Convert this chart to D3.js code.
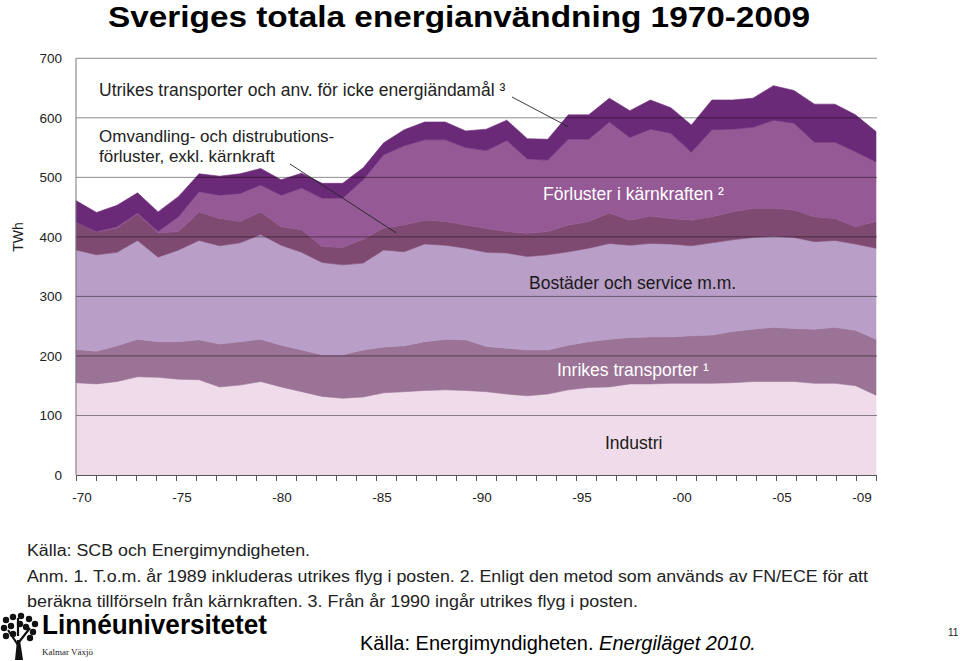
<!DOCTYPE html>
<html><head><meta charset="utf-8">
<script src="https://cdn.jsdelivr.net/npm/d3@7"></script>
<style>
body{margin:0;background:#fff;}
svg{display:block;font-family:"Liberation Sans",Arial,Helvetica,sans-serif;}
</style>
</head><body>
<svg id="c" width="960" height="661"></svg>
<script>
// ---- Data (TWh) ----
const years = [1970,1971,1972,1973,1974,1975,1976,1977,1978,1979,
               1980,1981,1982,1983,1984,1985,1986,1987,1988,1989,
               1990,1991,1992,1993,1994,1995,1996,1997,1998,1999,
               2000,2001,2002,2003,2004,2005,2006,2007,2008,2009];
const industri   = [155,153,157,165,164,161,160,148,151,157,148,140,132,129,131,138,140,142,143,142,
                    140,136,133,136,143,147,148,153,153,154,154,154,155,157,157,157,154,154,150,134];
const inrikes    = [56,55,60,63,60,63,67,72,73,71,70,70,70,73,79,77,77,82,85,85,
                    76,77,77,74,75,77,80,78,79,78,80,81,86,88,91,89,91,94,93,94];
const bostader   = [167,162,157,166,142,154,167,165,166,176,168,164,155,151,146,163,158,164,158,154,
                    158,160,157,160,157,157,161,155,157,156,151,155,154,154,153,153,147,146,145,153];
const omvandling = [47,38,41,45,41,31,48,46,36,38,31,38,27,29,40,37,45,40,40,39,
                    40,36,39,39,45,45,51,42,46,43,43,44,47,49,47,46,42,37,29,45];
const karnkraft  = [0,1,2,1,2,25,34,39,47,45,53,70,81,83,100,123,133,135,137,130,
                    131,153,125,120,144,138,153,139,146,143,114,146,139,136,148,146,125,128,126,100];
const utrikes    = [36,32,36,34,33,34,30,32,33,28,26,25,25,25,20,20,27,30,30,28,
                    36,34,34,35,41,41,40,45,49,43,46,50,49,49,58,55,64,64,62,51];

const seriesKeys  = ["industri","inrikes","bostader","omvandling","karnkraft","utrikes"];
const seriesColor = ["#efdbe9","#9b7397","#b99ec7","#7e4a72","#955a96","#6b2a78"];
const yTicks = [0,100,200,300,400,500,600,700];
const xLabelYears = [1970,1975,1980,1985,1990,1995,2000,2005,2009];
const xLabels = ["-70","-75","-80","-85","-90","-95","-00","-05","-09"];
const tickYears = years.concat([2010]);

// ---- Layout ----
const svg = d3.select("#c");
const L = 76, R = 876, T = 58.3, B = 475;
const x  = d3.scaleLinear().domain([1970, 2009]).range([L, R]);   // data points
const xt = d3.scaleLinear().domain([1970, 2010]).range([L, R]);   // year tick marks
const y  = d3.scaleLinear().domain([0, 700]).range([B, T]);

const table = years.map((yr, i) => ({
  year: yr, industri: industri[i], inrikes: inrikes[i], bostader: bostader[i],
  omvandling: omvandling[i], karnkraft: karnkraft[i], utrikes: utrikes[i]
}));
const stacked = d3.stack().keys(seriesKeys)(table);

const area = d3.area()
  .x(d => x(d.data.year))
  .y0(d => y(d[0]))
  .y1(d => y(d[1]));

svg.append("g").selectAll("path").data(stacked).join("path")
  .attr("d", area)
  .attr("fill", (d, i) => seriesColor[i])
  .attr("stroke", (d, i) => seriesColor[i])
  .attr("stroke-width", 0.6);

// gridlines on top
svg.append("g").selectAll("line").data(yTicks.filter(v => v > 0)).join("line")
  .attr("x1", L).attr("x2", R + 1)
  .attr("y1", d => y(d)).attr("y2", d => y(d))
  .attr("stroke", "#000").attr("stroke-opacity", 0.45).attr("stroke-width", 1);

// left axis line
svg.append("line").attr("x1", L).attr("x2", L).attr("y1", y(700)).attr("y2", B)
  .attr("stroke", "#777").attr("stroke-width", 1);

// y labels
const yAxis = d3.axisLeft(y).tickValues(yTicks).tickSize(0).tickPadding(14);
const gy = svg.append("g").attr("transform", `translate(${L},0)`).call(yAxis);
gy.select(".domain").remove();
gy.selectAll("text").attr("font-size", 13.5).attr("fill", "#222")
  .attr("font-family", '"Liberation Sans",Arial,sans-serif');

// x axis with yearly ticks
const xAxis = d3.axisBottom(xt).tickValues(tickYears).tickSize(6).tickSizeOuter(0)
  .tickFormat(() => "");
const gx = svg.append("g").attr("transform", `translate(0,${B})`).call(xAxis);
gx.select(".domain").attr("stroke", "#555");
gx.selectAll(".tick line").attr("stroke", "#555");

svg.append("g").selectAll("text").data(xLabelYears).join("text")
  .attr("x", d => xt(d) + 6).attr("y", 502)
  .attr("text-anchor", "middle").attr("font-size", 13.5).attr("fill", "#222")
  .text((d, i) => xLabels[i]);

// TWh
svg.append("text").attr("transform", "translate(23,237) rotate(-90)")
  .attr("text-anchor", "middle").attr("font-size", 14).attr("fill", "#222").text("TWh");

// in-chart labels
const lab = (t, xx, yy, fill, fs) => svg.append("text").attr("x", xx).attr("y", yy)
  .attr("font-size", fs || 17.5).attr("fill", fill).text(t);
lab("Utrikes transporter och anv. för icke energiändamål ³", 99, 96, "#222");
lab("Omvandling- och distrubutions-", 99, 142, "#222", 17);
lab("förluster, exkl. kärnkraft", 99, 162, "#222", 17);
lab("Förluster i kärnkraften ²", 543, 200, "#fff");
lab("Bostäder och service m.m.", 529, 289, "#1a1a1a");
lab("Inrikes transporter ¹", 557, 376, "#fff");
lab("Industri", 605, 449, "#1a1a1a");

// pointer lines
svg.append("line").attr("x1", 512).attr("y1", 97).attr("x2", x(1994)).attr("y2", y(585))
  .attr("stroke", "#222").attr("stroke-width", 0.9);
svg.append("line").attr("x1", 290).attr("y1", 164).attr("x2", x(1985.6)).attr("y2", y(407))
  .attr("stroke", "#222").attr("stroke-width", 0.9);

// title
svg.append("text").attr("x", 108).attr("y", 27).attr("font-size", 30).attr("font-weight", "bold")
  .attr("fill", "#000").attr("textLength", 702).attr("lengthAdjust", "spacingAndGlyphs")
  .text("Sveriges totala energianvändning 1970-2009");

// footer notes
const foot = (t, yy, len) => svg.append("text").attr("x", 27).attr("y", yy)
  .attr("font-size", 16).attr("fill", "#222")
  .attr("textLength", len).attr("lengthAdjust", "spacingAndGlyphs").text(t);
foot("Källa: SCB och Energimyndigheten.", 556, 283);
foot("Anm. 1. T.o.m. år 1989 inkluderas utrikes flyg i posten. 2. Enligt den metod som används av FN/ECE för att", 582, 841);
foot("beräkna tillförseln från kärnkraften. 3. Från år 1990 ingår utrikes flyg i posten.", 607, 611);

const src = svg.append("text").attr("x", 360).attr("y", 650).attr("font-size", 20).attr("fill", "#000");
src.append("tspan").text("Källa: Energimyndigheten. ");
src.append("tspan").attr("font-style", "italic").text("Energiläget 2010.");

svg.append("text").attr("x", 948).attr("y", 636).attr("font-size", 10).attr("fill", "#222").text("11");

// logo
const logo = svg.append("g");
logo.append("path").attr("d", "M17 640 L15 660 L23 660 L20 640 Z").attr("fill", "#111");
logo.append("path").attr("d", "M18 645 L8 630 M19 642 L30 628 M18 636 L18 618").attr("stroke", "#111").attr("stroke-width", 2.2).attr("fill", "none");
const dots = [[6,620],[13,617],[21,616],[29,619],[35,624],[4,628],[11,626],[26,627],[33,632],[6,636],[13,634],[30,638],[20,624]];
logo.selectAll("circle").data(dots).join("circle")
  .attr("cx", d => d[0]).attr("cy", d => d[1]).attr("r", 3.2).attr("fill", "#111");
logo.append("text").attr("x", 42).attr("y", 634).attr("font-size", 27).attr("font-weight", "bold")
  .attr("textLength", 225).attr("lengthAdjust", "spacingAndGlyphs").attr("fill", "#000")
  .text("Linnéuniversitetet");
logo.append("text").attr("x", 42).attr("y", 655).attr("font-size", 9)
  .attr("font-family", '"Liberation Serif","DejaVu Serif",serif').attr("fill", "#222").text("Kalmar Växjö");
</script>
</body></html>
